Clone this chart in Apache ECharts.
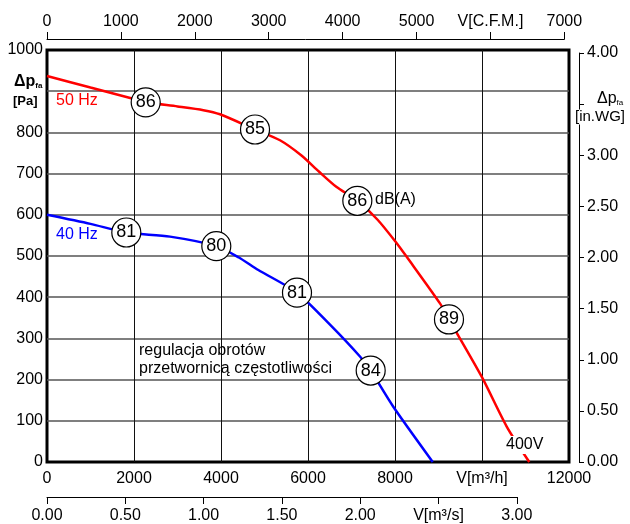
<!DOCTYPE html>
<html><head><meta charset="utf-8">
<script src="https://cdn.jsdelivr.net/npm/echarts@6/dist/echarts.min.js"></script>
<style>html,body{margin:0;padding:0;background:#fff}#c{width:630px;height:524px}</style>
</head><body><div id="c"></div>
<script>
// ---- data ----
const flow50 = [0, 1000, 2000, 2269, 3000, 3594, 3977, 4782, 5356, 5850, 6250, 6650, 7134, 7600, 8039, 8269, 9034, 9241, 9993, 10568, 11087];
const pres50 = [937, 909, 881, 873, 863, 854, 844, 807, 781, 744, 705, 668, 634, 588, 531, 498, 385, 346, 207, 86, 0];
const flow40 = [0, 1000, 1823, 2828, 3892, 4400, 4858, 5747, 6500, 7195, 7441, 7961, 8867];
const pres40 = [600, 578, 557, 547, 524, 497, 466, 411, 334, 256, 222, 134, 0];
const mark50Flow = [2269, 4782, 7134, 9241];
const mark50Pres = [873, 807, 634, 346];
const mark50Db = [86, 85, 86, 89];
const mark40Flow = [1823, 3892, 5747, 7441];
const mark40Pres = [557, 524, 411, 222];
const mark40Db = [81, 80, 81, 84];
// ticks
const m3hTicks = [0, 2000, 4000, 6000, 8000, 10000, 12000];
const cfmTicks = [0, 1000, 2000, 3000, 4000, 5000, 6000, 7000];
const m3sTicks = [0, 0.5, 1, 1.5, 2, 2.5, 3];
const paTicks = [0, 100, 200, 300, 400, 500, 600, 700, 800, 900, 1000];
const inwgTicks = [0, 0.5, 1, 1.5, 2, 2.5, 3, 3.5, 4];

const FONT = 'Liberation Sans, Arial, Helvetica, sans-serif';
const zip = (a, b) => a.map((v, i) => [v, b[i]]);
const marks = mark50Flow.map((f, i) => [f, mark50Pres[i], mark50Db[i]])
  .concat(mark40Flow.map((f, i) => [f, mark40Pres[i], mark40Db[i]]));

const chart = echarts.init(document.getElementById('c'));
const lbl = (extra) => Object.assign({fontSize: 16, color: '#000', fontFamily: FONT}, extra);

chart.setOption({
  animation: false,
  backgroundColor: '#fff',
  textStyle: {fontFamily: FONT},
  grid: [
    {left: 47, right: 61, top: 50, bottom: 62, show: true, borderColor: '#000', borderWidth: 3, backgroundColor: 'transparent'},
    {left: 47, width: 517.35, top: 39, height: 10, show: false},
    {left: 47, width: 469.8, bottom: 26, height: 10, show: false},
    {right: 51, width: 10, top: 53, bottom: 62, show: false}
  ],
  xAxis: [
    {gridIndex: 0, type: 'value', min: m3hTicks[0], max: m3hTicks[m3hTicks.length - 1], interval: 2000,
     axisLine: {show: false}, axisTick: {show: false},
     splitLine: {show: true, showMinLine: false, showMaxLine: false, lineStyle: {color: '#111', width: 1}},
     axisLabel: lbl({margin: 9, formatter: v => v === 10000 ? 'V[m³/h]' : String(v)})},
    {gridIndex: 1, type: 'value', position: 'top', min: cfmTicks[0], max: cfmTicks[cfmTicks.length - 1], interval: 1000,
     axisLine: {show: true, onZero: false, lineStyle: {color: '#000', width: 1}},
     axisTick: {show: true, length: 7, lineStyle: {color: '#000', width: 1}},
     splitLine: {show: false},
     axisLabel: lbl({margin: 9, formatter: v => v === 6000 ? 'V[C.F.M.]' : String(v)})},
    {gridIndex: 2, type: 'value', position: 'bottom', min: m3sTicks[0], max: m3sTicks[m3sTicks.length - 1], interval: 0.5,
     axisLine: {show: true, onZero: false, lineStyle: {color: '#000', width: 1}},
     axisTick: {show: true, length: 7, lineStyle: {color: '#000', width: 1}},
     splitLine: {show: false},
     axisLabel: lbl({margin: 11, formatter: v => Math.abs(v - 2.5) < 1e-9 ? 'V[m³/s]' : v.toFixed(2)})},
    {gridIndex: 3, type: 'value', show: false, min: 0, max: 1}
  ],
  yAxis: [
    {gridIndex: 0, type: 'value', min: paTicks[0], max: paTicks[paTicks.length - 1], interval: 100,
     axisLine: {show: false}, axisTick: {show: false},
     splitLine: {show: true, showMinLine: false, showMaxLine: false, lineStyle: {color: '#555', width: 1.5}},
     axisLabel: lbl({margin: 4, formatter: v => v === 900 ? '' : String(v)})},
    {gridIndex: 1, type: 'value', show: false, min: 0, max: 1},
    {gridIndex: 2, type: 'value', show: false, min: 0, max: 1},
    {gridIndex: 3, type: 'value', position: 'right', min: inwgTicks[0], max: inwgTicks[inwgTicks.length - 1], interval: 0.5,
     axisLine: {show: true, onZero: false, lineStyle: {color: '#000', width: 1}},
     axisTick: {show: true, length: 5, lineStyle: {color: '#000', width: 1}},
     splitLine: {show: false},
     axisLabel: lbl({margin: 8, formatter: v => Math.abs(v - 3.5) < 1e-9 ? '' : v.toFixed(2)})}
  ],
  series: [
    {type: 'line', xAxisIndex: 0, yAxisIndex: 0, data: zip(flow50, pres50), smooth: 0.25, showSymbol: false,
     lineStyle: {color: '#ff0000', width: 2.5}, z: 3},
    {type: 'line', xAxisIndex: 0, yAxisIndex: 0, data: zip(flow40, pres40), smooth: 0.25, showSymbol: false,
     lineStyle: {color: '#0000ff', width: 2.5}, z: 3},
    {type: 'scatter', xAxisIndex: 0, yAxisIndex: 0, data: marks, symbol: 'circle', symbolSize: 29, z: 5,
     itemStyle: {color: '#fff', borderColor: '#000', borderWidth: 1.2, opacity: 1},
     label: {show: true, position: 'inside', formatter: p => String(p.value[2]), fontSize: 18, color: '#000', fontFamily: FONT}}
  ],
  graphic: [
    {type: 'text', x: 56, y: 101, z: 10, style: {text: '50 Hz', fill: '#ff0000', font: '16px ' + FONT, verticalAlign: 'middle'}},
    {type: 'text', x: 56, y: 235, z: 10, style: {text: '40 Hz', fill: '#0000ff', font: '16px ' + FONT, verticalAlign: 'middle'}},
    {type: 'text', x: 375, y: 200, z: 10, style: {text: 'dB(A)', fill: '#000', font: '16px ' + FONT, verticalAlign: 'middle'}},
    {type: 'text', x: 505, y: 445, z: 10, style: {text: '400V', fill: '#000', font: '16px ' + FONT, verticalAlign: 'middle', backgroundColor: '#fff', padding: [1, 1, 1, 1]}},
    {type: 'text', x: 139, y: 351, z: 10, style: {text: 'regulacja obrotów', fill: '#000', font: '16px ' + FONT, verticalAlign: 'middle'}},
    {type: 'text', x: 139, y: 369, z: 10, style: {text: 'przetwornicą częstotliwości', fill: '#000', font: '16px ' + FONT, verticalAlign: 'middle'}},
    {type: 'text', x: 14, y: 82, z: 10, style: {text: '{a|Δp}{b|fa}', verticalAlign: 'middle',
      rich: {a: {fontSize: 16, fontWeight: 'bold', fontFamily: FONT, fill: '#000'}, b: {fontSize: 8, fontWeight: 'bold', fontFamily: FONT, fill: '#000', padding: [8, 0, 0, 0]}}}},
    {type: 'text', x: 13, y: 101, z: 10, style: {text: '[Pa]', fill: '#000', font: 'bold 13px ' + FONT, verticalAlign: 'middle'}},
    {type: 'text', x: 597, y: 99, z: 10, style: {text: '{a|Δp}{b|fa}', verticalAlign: 'middle',
      rich: {a: {fontSize: 16, fontFamily: FONT, fill: '#000'}, b: {fontSize: 8, fontFamily: FONT, fill: '#000', padding: [8, 0, 0, 0]}}}},
    {type: 'text', x: 575, y: 117, z: 10, style: {text: '[in.WG]', fill: '#000', font: '15px ' + FONT, verticalAlign: 'middle', backgroundColor: '#fff'}}
  ]
});
</script>
</body></html>
